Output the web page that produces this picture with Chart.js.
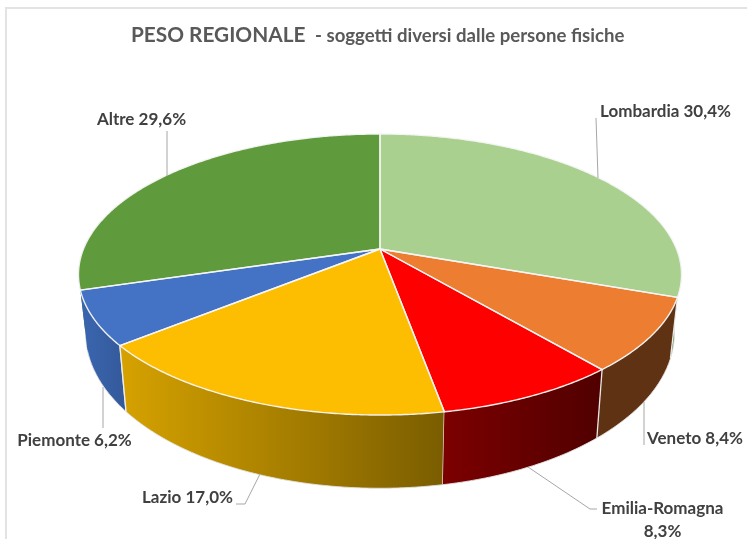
<!DOCTYPE html>
<html><head><meta charset="utf-8">
<style>html,body{margin:0;padding:0;background:#fff;overflow:hidden}canvas{display:block}</style>
<script src="https://cdn.jsdelivr.net/npm/chart.js@4"></script>
</head><body><canvas id="c" width="747" height="539"></canvas>
<script>
const categories = ["Lombardia","Veneto","Emilia-Romagna","Lazio","Piemonte","Altre"];
const values = [30.4,8.4,8.3,17.0,6.2,29.6];
const topColors = ["#A9D08E","#ED7D31","#FF0000","#FDBD00","#4472C4","#5F9A3C"];
const wallLeft = ["#4d7a33","#5E3213","#7C0000","#D6A200","#3A66B0","#3f6a28"];
const wallRight = ["#4d7a33","#5E3213","#500000","#7A5D00","#34599A","#3f6a28"];
// placement of each label: text lines, centre x, centre y
const labelPlaces = [
  {x:665.5,y:112},{x:695,y:439},{x:662.5,y:509,wrap:true,y2:532},{x:187.5,y:498},{x:74.5,y:441},{x:141.5,y:120}
];
const leaders = [
  [[596,118],[598,178]],
  [[644,402],[644,445]],
  [[528,467],[590,509],[597,509]],
  [[260,474],[245,504],[236,504]],
  [[103,387],[103,428]],
  [[167,131],[167,176]]
];
const TOP = {cx:380,cy:249,A:296.5,B:135.9,k:0.1815};
const BOT = {cx:380,cy:305,A:289.5,B:150,k:0.1815};
function proj(p,a){ // a: canvas angle of the arc (0 = east)
  const u=Math.cos(a), v=Math.sin(a), w=1-p.k*v;
  return [p.cx+p.A*u/w, p.cy+p.B*v/w];
}
function arcPts(p,a0,a1){
  const n=Math.max(2,Math.ceil(Math.abs(a1-a0)/0.008)), r=[];
  for(let i=0;i<=n;i++) r.push(proj(p,a0+(a1-a0)*i/n));
  return r;
}
function poly(ctx,pts,first){pts.forEach((q,i)=>{(i===0&&first)?ctx.moveTo(q[0],q[1]):ctx.lineTo(q[0],q[1]);});}

const pie3d = {
  id:'pie3d',
  beforeDatasetDraw(chart,args){
    const ctx=chart.ctx, arcs=chart.getDatasetMeta(0).data;
    ctx.save();
    ctx.lineJoin='round';
    // walls, drawn for the arcs facing the viewer (sin>0 side), back to front
    const order=[0,5,4,1,3,2];
    order.forEach(i=>{
      const el=arcs[i], a0=el.startAngle, a1=el.endAngle;
      let s=a0,e=a1;
      // only the part of the rim that is on the near side
      if(i===0) s=Math.max(a0,-0.02);
      if(i===5){ e=Math.min(a1,Math.PI+0.35); }
      if(e<=s) return;
      const t=arcPts(TOP,s,e), b=arcPts(BOT,s,e).reverse();
      const xs=t.concat(b).map(q=>q[0]);
      const g=ctx.createLinearGradient(Math.min(...xs),0,Math.max(...xs),0);
      g.addColorStop(0,wallLeft[i]);
      g.addColorStop(1,wallRight[i]);
      ctx.beginPath(); poly(ctx,t,true); poly(ctx,b,false); ctx.closePath();
      ctx.fillStyle=g; ctx.fill();
      // lower rim
      ctx.beginPath(); poly(ctx,b,true);
      ctx.strokeStyle='rgba(225,225,225,0.9)'; ctx.lineWidth=1; ctx.stroke();
      // seams
      if(i>=1&&i<=4){
        const p0=proj(TOP,a0), p1=proj(BOT,a0);
        ctx.beginPath(); ctx.moveTo(p0[0],p0[1]); ctx.lineTo(p1[0],p1[1]);
        ctx.strokeStyle='rgba(240,240,240,0.95)'; ctx.lineWidth=1.3; ctx.stroke();
      }
    });
    const ed=arcs[3], p0=proj(TOP,ed.endAngle), p1=proj(BOT,ed.endAngle);
    ctx.beginPath(); ctx.moveTo(p0[0],p0[1]); ctx.lineTo(p1[0],p1[1]);
    ctx.strokeStyle='rgba(240,240,240,0.95)'; ctx.lineWidth=1.3; ctx.stroke();
    // top faces
    arcs.forEach((el,i)=>{
      ctx.beginPath(); ctx.moveTo(TOP.cx,TOP.cy);
      poly(ctx,arcPts(TOP,el.startAngle,el.endAngle),false); ctx.closePath();
      ctx.fillStyle=el.options.backgroundColor; ctx.fill();
    });
    arcs.forEach((el,i)=>{
      ctx.beginPath(); ctx.moveTo(TOP.cx,TOP.cy);
      poly(ctx,arcPts(TOP,el.startAngle,el.endAngle),false); ctx.closePath();
      ctx.strokeStyle='rgba(245,245,245,0.95)'; ctx.lineWidth=1.4; ctx.stroke();
    });
    ctx.restore();
    return false;
  },
  afterDraw(chart){
    const ctx=chart.ctx;
    ctx.save();
    // frame
    ctx.strokeStyle='#e3e3e3'; ctx.lineWidth=2;
    ctx.beginPath(); ctx.moveTo(747,8); ctx.lineTo(6,8); ctx.lineTo(6,539); ctx.stroke();
    // leaders
    ctx.strokeStyle='#a6a6a6'; ctx.lineWidth=1;
    leaders.forEach(l=>{ctx.beginPath();l.forEach((q,i)=>i?ctx.lineTo(q[0],q[1]):ctx.moveTo(q[0],q[1]));ctx.stroke();});
    // labels
    ctx.textAlign='center'; ctx.textBaseline='middle'; ctx.fillStyle='#404040';
    ctx.font='bold 17px Lato';
    categories.forEach((c,i)=>{
      const txt=values[i].toFixed(1).replace('.',',')+'%', pl=labelPlaces[i];
      if(pl.wrap){ ctx.fillText(c,pl.x,pl.y); ctx.fillText(txt,pl.x,pl.y2); }
      else ctx.fillText(c+' '+txt,pl.x,pl.y);
    });
    // title
    ctx.textAlign='left'; ctx.fillStyle='#595959';
    ctx.font='bold 20.8px Lato'; ctx.fillText('PESO REGIONALE',131,35);
    ctx.font='bold 18.6px Lato'; ctx.fillText('- soggetti diversi dalle persone fisiche',315,36);
    ctx.restore();
  }
};
new Chart(document.getElementById('c'),{
  type:'pie',
  data:{labels:categories,datasets:[{data:values,backgroundColor:topColors}]},
  options:{responsive:false,animation:false,rotation:0,
    plugins:{legend:{display:false},tooltip:{enabled:false},title:{display:false}}},
  plugins:[pie3d]
});
</script></body></html>
